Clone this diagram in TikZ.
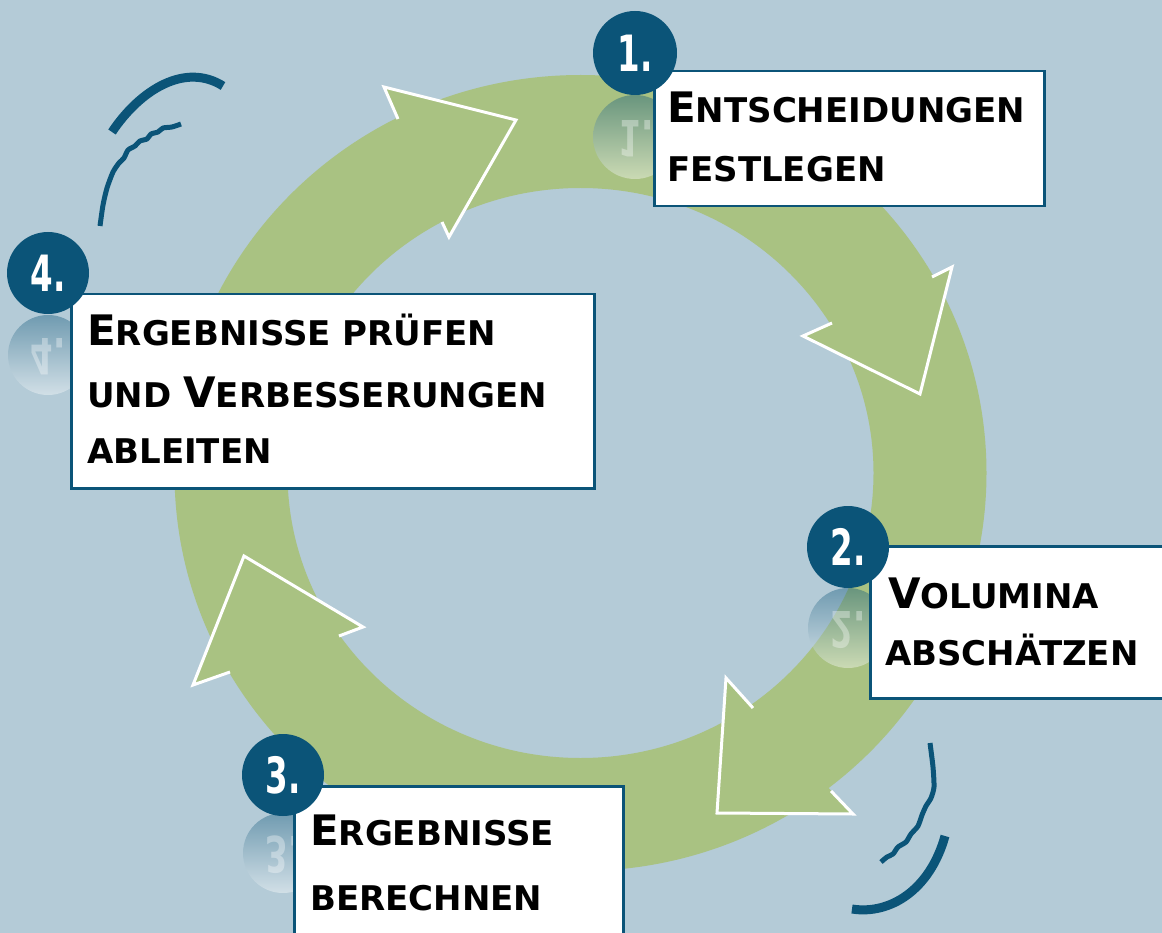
\documentclass[tikz,border=0pt]{standalone}
\usepackage{fontspec}
\setmainfont{DejaVu Sans}
\usepackage{graphicx}
\definecolor{bg}{HTML}{B4CBD7}
\definecolor{ringc}{HTML}{A9C282}
\definecolor{dblue}{HTML}{0B5478}
\newcommand\BigL[1]{{\fontsize{42}{42}\selectfont #1}}
\tikzset{
  stepbox/.style={draw=dblue, line width=2.5pt, fill=white, inner sep=0pt, anchor=north west},
  numdisk/.style={circle, fill=dblue, minimum size=82pt, inner sep=0pt, text=white,
    font=\bfseries\fontsize{50}{50}\selectfont},
  refltext/.style={inner sep=0pt, text=white, text opacity=0.35,
    font=\bfseries\fontsize{50}{50}\selectfont},
  reflshade/.style={top color=dblue, bottom color=white, opacity=0.4},
  label/.style={anchor=base west, inner sep=0pt, text=black,
    font=\bfseries\fontsize{34}{34}\selectfont},
  arrowline/.style={white, line width=3pt, line join=miter},
  deco/.style={dblue, line cap=butt},
}
\begin{document}
\begin{tikzpicture}[x=1pt,y=-1pt]
\useasboundingbox (0,0) rectangle (1162,933);
\fill[bg] (0,0) rectangle (1162,933);

% ring
\fill[ringc, even odd rule] (580.5,473) ellipse [x radius=406pt, y radius=398pt]
  (580.5,473) ellipse [x radius=293pt, y radius=285pt];

% arrowheads
\fill[ringc] (384,87) -- (516,120) -- (449,237) -- cycle;
\draw[arrowline] (398,119) -- (384,87) -- (516,120) -- (449,237) -- (442,222);
\fill[ringc] (952,267) -- (920,394) -- (803,336) -- cycle;
\draw[arrowline] (932,277) -- (952,267) -- (920,394) -- (803,336) -- (832,323);
\fill[ringc] (726,678) -- (717,813) -- (853,814) -- cycle;
\draw[arrowline] (753,708) -- (726,678) -- (717,813) -- (853,814) -- (831,791);
\fill[ringc] (363,627) -- (244,556) -- (193,685) -- cycle;
\draw[arrowline] (339,636) -- (363,627) -- (244,556) -- (193,685) -- (230,672);

% decorative strokes
\draw[deco, line width=9pt] (112,132) .. controls (140,90) and (185,62) .. (223,86);
\draw[deco, line width=5pt, line join=round] plot[smooth, tension=0.4] coordinates {(100,226) (103,205) (107,188) (113,172) (119,163) (124,158) (128,150) (135,146) (140,141) (147,139) (151,134) (158,132) (163,128) (172,127) (181,124)};
\draw[deco, line width=9pt] (945,836) .. controls (930,890) and (890,915) .. (852,909);
\draw[deco, line width=5pt, line join=round] plot[smooth, tension=0.4] coordinates {(930,743) (933,767) (934,787) (931,798) (926,806) (922,815) (918,826) (911,834) (906,842) (898,847) (893,854) (887,857) (881,862)};

% reflections
\shade[reflshade] (635,137) circle (42pt);
\node (r1) [refltext] at (636,139) {\scalebox{0.65}[-1]{1.}};
\shade[reflshade] (848,628) circle (40pt);
\node (r2) [refltext] at (848,630) {\scalebox{0.65}[-1]{2.}};
\shade[reflshade] (283,853) circle (40pt);
\node (r3) [refltext] at (283,855) {\scalebox{0.65}[-1]{3.}};
\shade[reflshade] (48,355) circle (40pt);
\node (r4) [refltext] at (48,357) {\scalebox{0.65}[-1]{4.}};

% boxes
\node (b1) [stepbox, minimum width=390pt, minimum height=135pt] at (653,70) {};
\node (b2) [stepbox, minimum width=320pt, minimum height=152pt] at (869,545) {};
\node (b3) [stepbox, minimum width=329pt, minimum height=170pt] at (293,785) {};
\node (b4) [stepbox, minimum width=523pt, minimum height=194pt] at (70,293) {};

% number disks
\node (n1) [numdisk, minimum size=84pt] at (635,53) {\scalebox{0.65}[1]{1.}};
\node (n2) [numdisk] at (848,547) {\scalebox{0.65}[1]{2.}};
\node (n3) [numdisk] at (283,775) {\scalebox{0.65}[1]{3.}};
\node (n4) [numdisk] at (48,273) {\scalebox{0.65}[1]{4.}};

% labels
\node (t1a) [label] at (667,123) {\BigL{E}NTSCHEIDUNGEN};
\node (t1b) [label] at (667,182) {FESTLEGEN};
\node (t2a) [label] at (888,608) {\BigL{V}OLUMINA};
\node (t2b) [label] at (885,665) {ABSCHÄTZEN};
\node (t3a) [label] at (310,845) {\BigL{E}RGEBNISSE};
\node (t3b) [label] at (310,910) {BERECHNEN};
\node (t4a) [label] at (87,345) {\BigL{E}RGEBNISSE PRÜFEN};
\node (t4b) [label] at (87,407) {UND \BigL{V}ERBESSERUNGEN};
\node (t4c) [label] at (87,463) {ABLEITEN};
\end{tikzpicture}
\end{document}
